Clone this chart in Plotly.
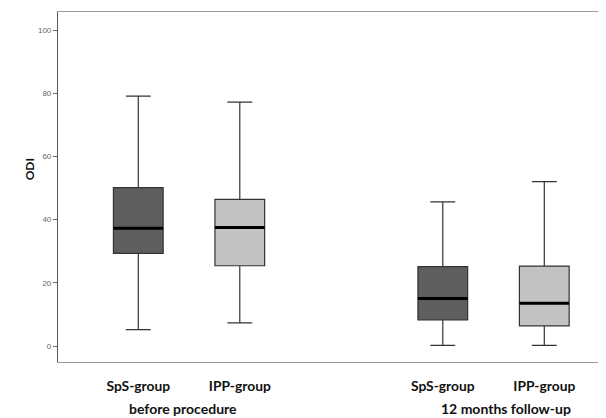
import plotly.graph_objects as go

# ---- data ----
categories = ["SpS-group | before procedure", "IPP-group | before procedure",
              "SpS-group | 12 months follow-up", "IPP-group | 12 months follow-up"]
tick_labels = ["SpS-group", "IPP-group", "SpS-group", "IPP-group"]
period_labels = ["before procedure", "12 months follow-up"]

whisker_low = [5.2, 7.3, 0.2, 0.2]
q1 = [29.3, 25.4, 8.3, 6.4]
median = [37.3, 37.5, 15.0, 13.5]
q3 = [50.1, 46.4, 25.1, 25.3]
whisker_high = [79.1, 77.2, 45.6, 52.0]

y_ticks = [0, 20, 40, 60, 80, 100]

# axis order with a spacer between the two time points
category_order = [categories[0], categories[1], "spacer", categories[2], categories[3]]

sps_idx = [0, 2]
ipp_idx = [1, 3]


def pick(arr, idx):
    return [arr[i] for i in idx]


fig = go.Figure()

for idx, fill in [(sps_idx, "#5e5e5e"), (ipp_idx, "#c2c2c2")]:
    fig.add_trace(go.Box(
        x=pick(categories, idx),
        q1=pick(q1, idx), median=pick(median, idx), q3=pick(q3, idx),
        lowerfence=pick(whisker_low, idx), upperfence=pick(whisker_high, idx),
        fillcolor=fill,
        line=dict(color="#333333", width=1.2),
        width=0.49, whiskerwidth=0.5,
        boxpoints=False, showlegend=False, hoverinfo="skip",
    ))

# thick black median lines
fig.add_trace(go.Box(
    x=categories,
    q1=median, median=median, q3=median,
    lowerfence=median, upperfence=median,
    fillcolor="rgba(0,0,0,0)",
    line=dict(color="#000000", width=3),
    width=0.49, whiskerwidth=0,
    boxpoints=False, showlegend=False, hoverinfo="skip",
))

# the page body adds an 8px offset, so the figure is 8px smaller and margins shifted
fig.update_layout(
    width=598, height=410,
    margin=dict(l=50, r=0, t=4, b=56),
    paper_bgcolor="white", plot_bgcolor="white",
    font=dict(family="Liberation Sans, Arial, sans-serif", color="#555555"),
    boxmode="overlay",
)

fig.update_xaxes(
    type="category",
    categoryorder="array", categoryarray=category_order,
    range=[-0.791, 4.608],
    tickvals=categories, ticktext=[f"<b>{t}</b>" for t in tick_labels],
    tickfont=dict(family="Lato, Carlito, sans-serif", size=13.8, color="#111111"),
    ticks="", ticklabelstandoff=11,
    showline=True, linecolor="#9a9a9a", linewidth=1.2, mirror=True,
    showgrid=False, zeroline=False,
)

fig.update_yaxes(
    range=[-5.06, 105.7],
    tickvals=y_ticks,
    tickfont=dict(family="Liberation Sans, Arial, sans-serif", size=8, color="#666666"),
    ticks="outside", ticklen=4, tickcolor="#666666",
    showline=True, linecolor="#555555", linewidth=1.2,
    showgrid=False, zeroline=False,
)

# y-axis title
fig.add_annotation(
    text="<b>ODI</b>", xref="paper", yref="paper", x=0, y=0.549,
    xshift=-38, textangle=-90, showarrow=False,
    font=dict(family="Lato, Carlito, sans-serif", size=12, color="#111111"),
)

# period labels under the group ticks
for label, xpos in zip(period_labels, [0.44, 3.62]):
    fig.add_annotation(
        text=f"<b>{label}</b>", xref="x", yref="paper", x=xpos, y=-0.134,
        yanchor="middle", showarrow=False,
        font=dict(family="Lato, Carlito, sans-serif", size=14, color="#111111"),
    )

fig.write_html("out.html")
